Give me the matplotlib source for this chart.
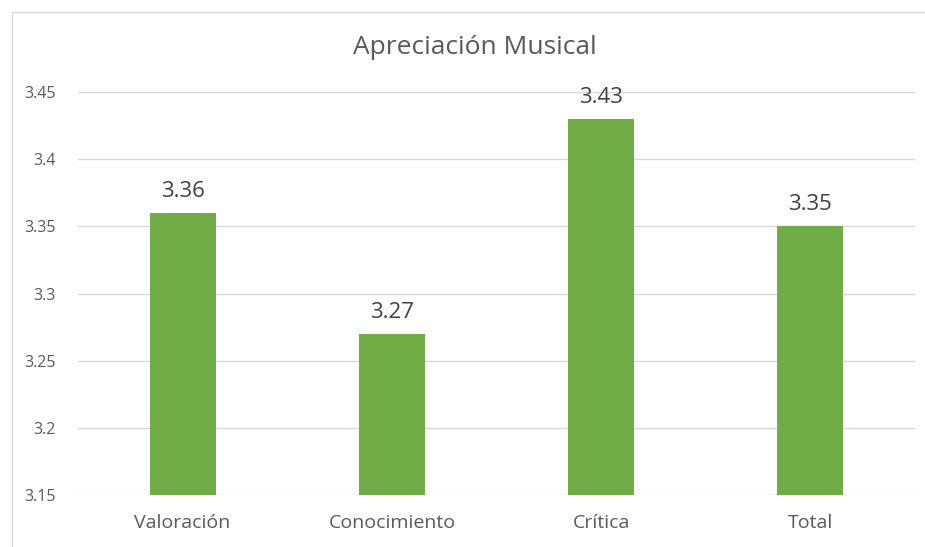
import matplotlib
matplotlib.use("Agg")
from matplotlib import pyplot as plt
from matplotlib.lines import Line2D

categories = ["Valoración", "Conocimiento", "Crítica", "Total"]
values = [3.36, 3.27, 3.43, 3.35]
yticks = [3.15, 3.2, 3.25, 3.3, 3.35, 3.4, 3.45]
ytick_labels = ["3.15", "3.2", "3.25", "3.3", "3.35", "3.4", "3.45"]

plt.rcParams['font.family'] = ['Open Sans', 'DejaVu Sans']
text_color = '#595959'
bar_color = '#70AD47'

fig = plt.figure(figsize=(9.25, 5.47), dpi=100)
# chart frame: only top and left edges are visible in the crop
top = 1 - 11.5 / 547
left = 11.5 / 925
fig.add_artist(Line2D([left, 1.0], [top, top], transform=fig.transFigure,
                      color='#D9D9D9', linewidth=1))
fig.add_artist(Line2D([left, left], [0.0, top], transform=fig.transFigure,
                      color='#D9D9D9', linewidth=1))

ax = fig.add_axes([78 / 925, 1 - 495 / 547, 837 / 925, (495 - 92) / 547])
x = range(len(categories))
bars = ax.bar(x, values, width=0.315, color=bar_color, zorder=3)
ax.set_xlim(-0.5, len(categories) - 0.5)
ax.set_ylim(3.15, 3.45)
ax.set_yticks(yticks)
ax.set_yticklabels(ytick_labels)
ax.set_xticks(list(x))
ax.set_xticklabels(categories)
ax.grid(axis='y', color='#D9D9D9', linewidth=1, zorder=0)
for s in ax.spines.values():
    s.set_visible(False)
ax.tick_params(axis='both', length=0, colors=text_color)
ax.tick_params(axis='y', labelsize=11.5, pad=16)
ax.tick_params(axis='x', labelsize=14, pad=14)

for i, v in enumerate(values):
    ax.annotate(f"{v:.2f}", (i, v), xytext=(0, 8), textcoords='offset points',
                ha='center', va='bottom', fontsize=16, color='#404040')

fig.text(475 / 925, 1 - 47 / 547, "Apreciación Musical", ha='center', va='center',
         fontsize=19, color=text_color)

fig.savefig("out.png", dpi=100)
